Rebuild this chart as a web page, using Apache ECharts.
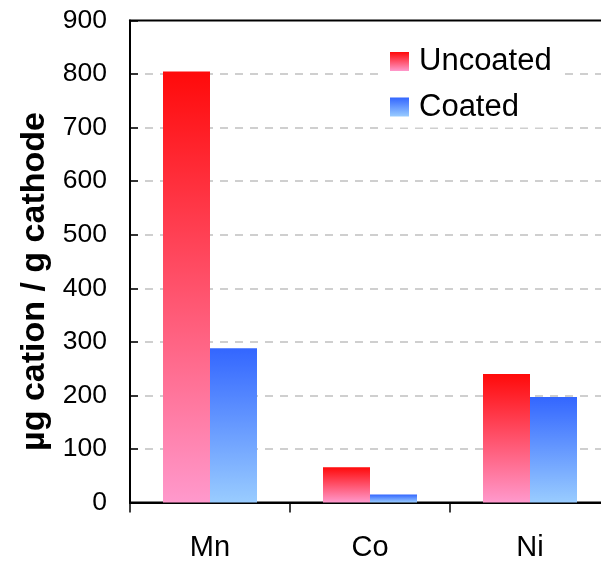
<!DOCTYPE html>
<html>
<head>
<meta charset="utf-8">
<script src="https://cdn.jsdelivr.net/npm/echarts@6/dist/echarts.min.js"></script>
<style>html,body{margin:0;padding:0;background:#fff}#c{width:601px;height:563px}</style>
</head>
<body>
<div id="c"></div>
<script>
var categories = ['Mn', 'Co', 'Ni'];
var uncoated = [805, 66, 240];
var coated = [288, 15, 197];
var seriesNames = ['Uncoated', 'Coated'];
var yTicks = { min: 0, max: 900, interval: 100 };
var yTitle = 'µg cation / g cathode';

var FONT = '"Liberation Sans", Arial, sans-serif';
function grad(top, bottom) {
  return new echarts.graphic.LinearGradient(0, 0, 0, 1, [
    { offset: 0, color: top }, { offset: 1, color: bottom }
  ]);
}
var chart = echarts.init(document.getElementById('c'), null, { renderer: 'canvas' });
chart.setOption({
  animation: false,
  backgroundColor: '#fff',
  grid: { left: 130, top: 20.5, width: 480, height: 482, containLabel: false, outerBoundsMode: 'none',
          show: true, borderColor: '#000', borderWidth: 2, backgroundColor: 'transparent' },
  legend: {
    orient: 'vertical', left: 380, top: 39, padding: [7, 10, 5, 10],
    backgroundColor: '#fff', itemWidth: 19, itemHeight: 19, itemGap: 14.5, icon: 'rect',
    textStyle: { fontFamily: FONT, fontSize: 31, color: '#000', lineHeight: 31, padding: [0, 0, 0, 5] },
    data: seriesNames
  },
  xAxis: {
    type: 'category', data: categories,
    axisLine: { lineStyle: { color: '#000', width: 2 } },
    axisTick: { show: true, length: 10, inside: false, lineStyle: { color: '#000', width: 1.5 } },
    axisLabel: { fontFamily: FONT, fontSize: 29, color: '#000', margin: 31 }
  },
  yAxis: {
    type: 'value', min: yTicks.min, max: yTicks.max, interval: yTicks.interval,
    name: yTitle, nameLocation: 'middle', nameGap: 78,
    nameTextStyle: { fontFamily: FONT, fontSize: 34, fontWeight: 'bold', color: '#000', padding: [0, 40, 0, 0] },
    axisLine: { show: true, lineStyle: { color: '#000', width: 2 } },
    axisTick: { show: true, inside: true, length: 8, lineStyle: { color: '#000', width: 1.5 } },
    axisLabel: { fontFamily: FONT, fontSize: 26.5, color: '#000', margin: 23 },
    splitLine: { show: true, showMaxLine: false, lineStyle: { color: '#c0c0c0', type: [8, 7], width: 1.5 } }
  },
  series: [
    { name: seriesNames[0], type: 'bar', data: uncoated, barWidth: 47, barGap: '0%',
      itemStyle: { color: grad('#ff0a0a', '#ff99cc') } },
    { name: seriesNames[1], type: 'bar', data: coated, barWidth: 47, barGap: '0%',
      itemStyle: { color: grad('#3366ff', '#99ccff') } }
  ]
});
</script>
</body>
</html>
